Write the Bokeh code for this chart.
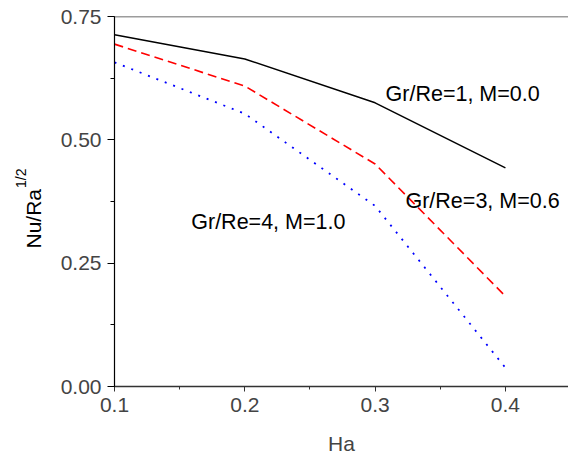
import math
from bokeh.plotting import figure
from bokeh.models import (Range1d, SingleIntervalTicker, NumeralTickFormatter,
                          Label, Span)
from bokeh.embed import file_html
from bokeh.resources import INLINE

# ---- data ----
ha = [0.1, 0.2, 0.3, 0.4]
nu_case1 = [0.713, 0.664, 0.575, 0.443]   # Gr/Re=1, M=0.0
nu_case3 = [0.694, 0.609, 0.451, 0.183]   # Gr/Re=3, M=0.6
nu_case4 = [0.657, 0.553, 0.366, 0.038]   # Gr/Re=4, M=1.0
case_labels = ["Gr/Re=1, M=0.0", "Gr/Re=3, M=0.6", "Gr/Re=4, M=1.0"]

FONT = "Liberation Sans"

p = figure(width=568, height=457, output_backend="svg", toolbar_location=None,
           x_range=Range1d(0.1, 0.4484), y_range=Range1d(0.0, 0.75),
           min_border_left=114, min_border_right=0, min_border_top=16,
           min_border_bottom=69)
p.outline_line_color = None
p.grid.visible = False
p.background_fill_color = "white"
p.border_fill_color = "white"

p.line(ha, nu_case1, line_color="black", line_width=1.5)
p.line(ha, nu_case3, line_color="#ff0000", line_width=1.6, line_dash="9 5")
p.line(ha, nu_case4, line_color="#0000ff", line_width=1.8, line_dash="2 7")

# axes
xa = p.xaxis[0]
xa.ticker = SingleIntervalTicker(interval=0.1, num_minor_ticks=2)
xa.formatter = NumeralTickFormatter(format="0.0")
xa.axis_label = "Ha"
xa.axis_label_text_font = FONT
xa.axis_label_text_font_style = "normal"
xa.axis_label_text_font_size = "21px"
xa.axis_label_standoff = 17
xa.major_label_text_font = FONT
xa.major_label_text_font_size = "21px"
xa.major_label_standoff = 6
xa.major_tick_in = 0
xa.major_tick_out = 5
xa.minor_tick_in = 0
xa.minor_tick_out = 3
xa.axis_line_color = "#333333"
xa.axis_line_width = 1.3
xa.major_tick_line_color = "#333333"
xa.minor_tick_line_color = "#333333"

ya = p.yaxis[0]
ya.ticker = SingleIntervalTicker(interval=0.25, num_minor_ticks=2)
ya.formatter = NumeralTickFormatter(format="0.00")
ya.major_label_text_font = FONT
ya.major_label_text_font_size = "21px"
ya.major_label_standoff = 6
ya.major_tick_in = 0
ya.major_tick_out = 7
ya.minor_tick_in = 0
ya.minor_tick_out = 4
ya.axis_line_color = "black"
ya.axis_line_width = 1.2
ya.major_tick_line_color = "black"
ya.minor_tick_line_color = "black"

# top frame line
p.add_layout(Span(location=0.75, dimension="width", line_color="#3a3a3a",
                  line_width=1.4))

# y axis title with superscript (labels in the left side panel)
p.add_layout(Label(x=33, y=138, x_units="canvas", y_units="screen",
                   text="Nu/Ra", angle=math.pi / 2, text_align="left",
                   text_baseline="alphabetic", text_font=FONT,
                   text_font_size="21px", text_color="black"), "left")
p.add_layout(Label(x=20, y=198.5, x_units="canvas", y_units="screen",
                   text="1/2", angle=math.pi / 2, text_align="left",
                   text_baseline="alphabetic", text_font=FONT,
                   text_font_size="14px", text_color="black"), "left")

# curve annotations
label_pos = [(0.308, 0.593), (0.3233, 0.377), (0.1589, 0.333)]
for txt, (lx, ly) in zip(case_labels, label_pos):
    p.add_layout(Label(x=lx, y=ly, text=txt, text_align="left",
                       text_baseline="alphabetic", text_font=FONT,
                       text_font_size="21.5px", text_color="black"))

open("out.html", "w").write(file_html(p, INLINE))
